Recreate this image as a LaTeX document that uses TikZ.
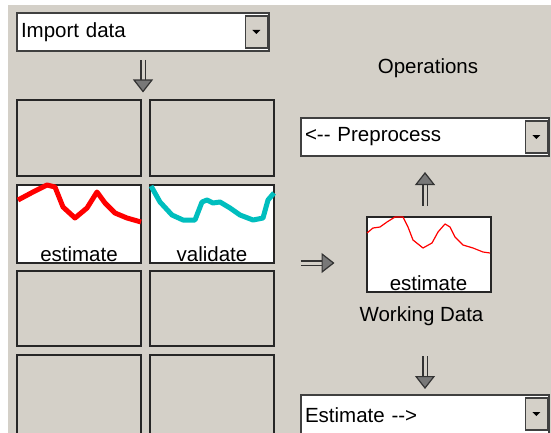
\documentclass[tikz,border=0pt]{standalone}
\usepackage{fontspec}
\setmainfont{Liberation Sans}[Ligatures=TeXOff]
\usetikzlibrary{arrows.meta}
\definecolor{bggray}{RGB}{212,208,200}
\definecolor{edgegray}{RGB}{64,64,64}
\definecolor{headgray}{RGB}{120,120,120}
\definecolor{sigred}{RGB}{255,0,0}
\definecolor{sigcyan}{RGB}{0,190,190}
\begin{document}
\begin{tikzpicture}[x=1pt,y=-1pt]
        \tikzset{font=\fontsize{20.5}{24}\selectfont,
          combo/.style={draw=edgegray,line width=2pt,fill=white,inner xsep=4pt,inner ysep=0pt,align=left},
          combobtn/.style={draw=edgegray,line width=1.2pt,fill=bggray,minimum width=22,minimum height=32,inner sep=0pt,anchor=east},
          cell/.style={draw=edgegray!60!black,line width=2pt,minimum width=124,minimum height=75,inner sep=0pt},
          blockarrow/.style={draw=black!80,line width=1.5pt,double=bggray,double distance=3pt,-{Triangle[length=13pt,width=20pt,line width=1.2pt,fill=headgray]}}};
        \useasboundingbox (0,0) rectangle (551,433);
        \fill[white] (0,0) rectangle (551,433);
        \fill[bggray] (8,5) rectangle (551,433);
        % drop-down menus
        \node[combo,text width=244,minimum height=38] (import) at (143,32) {Import data};
        \node[combo,text width=240,minimum height=38] (pre) at (425,137) {<-- Preprocess};
        \node[combo,text width=240,minimum height=40] (est) at (425,415) {Estimate -->};
        \node[combobtn] (importbtn) at ([xshift=-2pt]import.east) {};
        \node[combobtn] (prebtn) at ([xshift=-2pt]pre.east) {};
        \node[combobtn] (estbtn) at ([xshift=-2pt,yshift=1pt]est.east) {};
        \foreach \b in {importbtn,prebtn,estbtn}
          \fill ([shift={(-4,-2)}]\b.center) -- ++(8,0) -- ++(-4,4) -- cycle;
        \node (ops) at (428,68) {Operations};
        % data boards
        \node[cell] (c11) at (79,138) {};
        \node[cell] (c12) at (212,138) {};
        \node[cell,fill=white,minimum height=78] (c21) at (79,223.5) {};
        \node[cell,fill=white,minimum height=78] (c22) at (212,223.5) {};
        \node[cell] (c31) at (79,308) {};
        \node[cell] (c32) at (212,308) {};
        \node[cell,minimum height=80] (c41) at (79,395) {};
        \node[cell,minimum height=80] (c42) at (212,395) {};
        \draw[sigred,line width=5pt,line join=round] (18,200) -- (33,192) -- (47,185) -- (55,187) -- (63,207) -- (75,218) -- (87,208) -- (97,192) -- (105,203) -- (115,213) -- (127,218) -- (141,222);
        \draw[sigcyan,line width=5pt,line join=round] (151,186) -- (160,202) -- (172,215) -- (183,220) -- (195,220) -- (202,202) -- (207,200) -- (213,203) -- (220,202) -- (230,208) -- (240,215) -- (253,220) -- (263,218) -- (268,200) -- (274,193);
        \node[anchor=south,inner sep=2pt] (l21) at (c21.south) {estimate};
        \node[anchor=south,inner sep=2pt] (l22) at (c22.south) {validate};
        % working data
        \node[cell,fill=white] (wd) at (428.5,254) {};
        \draw[sigred,line width=1.2pt,line join=round] (367,233) -- (373,228) -- (380,227) -- (387,222) -- (395,217) -- (403,217) -- (408,227) -- (413,240) -- (423,248) -- (432,243) -- (438,232) -- (445,224) -- (450,227) -- (455,237) -- (463,245) -- (473,248) -- (483,252) -- (490,253);
        \node[anchor=south,inner sep=2pt] (lwd) at (wd.south) {estimate};
        \node (wdtext) at (421.5,316) {Working Data};
        % arrows
        \draw[blockarrow,shorten <=8pt,shorten >=7pt] (import.south) -- (import.south |- c11.north);
        \draw[blockarrow,shorten >=31pt] ([xshift=-65pt,yshift=-9pt]wd.west) -- ([yshift=-9pt]wd.west);
        \draw[blockarrow,shorten <=10pt,shorten >=15pt] (pre.south |- wd.north) -- (pre.south);
        \draw[blockarrow,shorten <=40pt,shorten >=5pt] (est.north |- wdtext) -- (est.north);
    \end{tikzpicture}
\end{document}
